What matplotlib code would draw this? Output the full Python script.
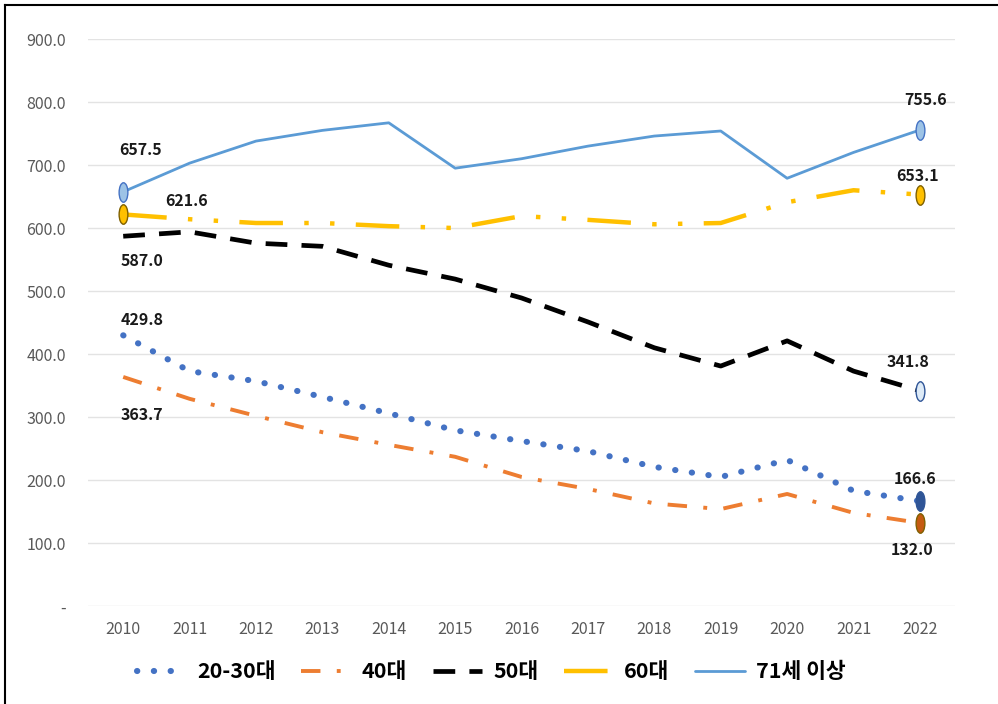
import matplotlib

matplotlib.use("Agg")
import matplotlib.pyplot as plt
from matplotlib.lines import Line2D
from matplotlib.path import Path
from matplotlib.transforms import Affine2D

plt.rcParams["font.family"] = ["Noto Sans CJK KR", "DejaVu Sans"]

years = [2010, 2011, 2012, 2013, 2014, 2015, 2016, 2017, 2018, 2019, 2020, 2021, 2022]
age_20_30 = [429.8, 373, 357, 332, 306, 279, 262, 246, 221, 205, 232, 183, 166.6]
age_40 = [363.7, 329, 302, 276, 256, 237, 205, 186, 163, 154, 178, 148, 132.0]
age_50 = [587.0, 594, 576, 571, 541, 519, 489, 451, 410, 381, 421, 373, 341.8]
age_60 = [621.6, 614, 608, 608, 603, 600, 619, 613, 606, 608, 641, 660, 653.1]
age_71 = [657.5, 703, 738, 755, 767, 695, 710, 730, 746, 754, 679, 720, 755.6]
series_names = ["20-30대", "40대", "50대", "60대", "71세 이상"]
y_ticks = [0, 100, 200, 300, 400, 500, 600, 700, 800, 900]
y_tick_labels = ["-", "100.0", "200.0", "300.0", "400.0", "500.0", "600.0", "700.0", "800.0", "900.0"]

# tall ellipse marker used on end points
ellipse = Path.unit_circle().transformed(Affine2D().scale(0.45, 1.0))

fig = plt.figure(figsize=(9.98, 7.04), dpi=100)
ax = fig.add_axes([0.0882, 0.139, 0.8688, 0.8056])

x = list(range(len(years)))

styles = [
    dict(data=age_20_30, color="#4472C4", lw=4.4, ls=(0, (0.05, 2.7)), cap="round"),
    dict(data=age_40, color="#ED7D31", lw=2.8, ls=(0, (5.0, 4.2, 1.0, 4.2)), cap="butt"),
    dict(data=age_50, color="#000000", lw=3.4, ls=(0, (4.6, 3.0)), cap="butt"),
    dict(data=age_60, color="#FFC000", lw=3.2, ls=(0, (9.8, 4.8, 1.0, 4.8, 1.0, 4.8)), cap="butt"),
    dict(data=age_71, color="#5B9BD5", lw=2.0, ls="-", cap="butt"),
]
for name, st in zip(series_names, styles):
    ax.plot(x, st["data"], color=st["color"], lw=st["lw"], linestyle=st["ls"],
            dash_capstyle=st["cap"], solid_capstyle="round", label=name, zorder=3)

# end markers
marker_specs = [
    (0, age_71[0], "#9DC3E6", "#4472C4"),
    (0, age_60[0], "#FFC000", "#7F6000"),
    (12, age_71[12], "#9DC3E6", "#4472C4"),
    (12, age_60[12], "#FFC000", "#7F6000"),
    (12, age_50[12], "#DEEBF7", "#2F5597"),
    (12, age_20_30[12], "#2F5597", "#2F5597"),
    (12, age_40[12], "#C55A11", "#7F6000"),
]
for mx, my, face, edge in marker_specs:
    ax.plot([mx], [my], marker=ellipse, markersize=14, markerfacecolor=face,
            markeredgecolor=edge, markeredgewidth=1.0, linestyle="none", zorder=4)

# value labels (offsets in pixels)
labels = [
    (0, age_71[0], 17, 42),
    (0, age_60[0], 63, 13),
    (0, age_50[0], 19, -25),
    (0, age_20_30[0], 19, 15),
    (0, age_40[0], 19, -38),
    (12, age_71[12], 6, 30),
    (12, age_60[12], -2, 19),
    (12, age_50[12], -12, 29),
    (12, age_20_30[12], -5, 22),
    (12, age_40[12], -8, -27),
]
for lx, ly, dx, dy in labels:
    ax.annotate(f"{ly:.1f}", (lx, ly), xytext=(dx, dy), textcoords="offset pixels",
                ha="center", va="center", fontsize=11.5, fontweight="bold",
                color="#1a1a1a", zorder=5)

ax.set_xlim(-0.53, 12.53)
ax.set_ylim(0, 900)
ax.set_xticks(x)
ax.set_xticklabels([str(y) for y in years])
ax.set_yticks(y_ticks)
ax.set_yticklabels(y_tick_labels)
ax.tick_params(axis="both", length=0, labelsize=11.5, colors="#595959")
ax.tick_params(axis="y", pad=16)
ax.tick_params(axis="x", pad=11)
ax.grid(axis="y", color="#E3E3E3", lw=1.0, zorder=0)
for spine in ax.spines.values():
    spine.set_visible(False)

fig.legend(loc="center", bbox_to_anchor=(0.492, 0.046), ncol=5, frameon=False,
           prop={"size": 15.5, "weight": "bold"}, handlelength=2.3, handletextpad=0.5,
           columnspacing=1.2)

# outer frame (left and top edges)
fig.add_artist(Line2D([5 / 998, 5 / 998], [0, 1 - 5 / 704], color="black", lw=1.5,
                      transform=fig.transFigure))
fig.add_artist(Line2D([5 / 998, 1], [1 - 5 / 704, 1 - 5 / 704], color="black", lw=1.5,
                      transform=fig.transFigure))

fig.savefig("out.png", dpi=100)
